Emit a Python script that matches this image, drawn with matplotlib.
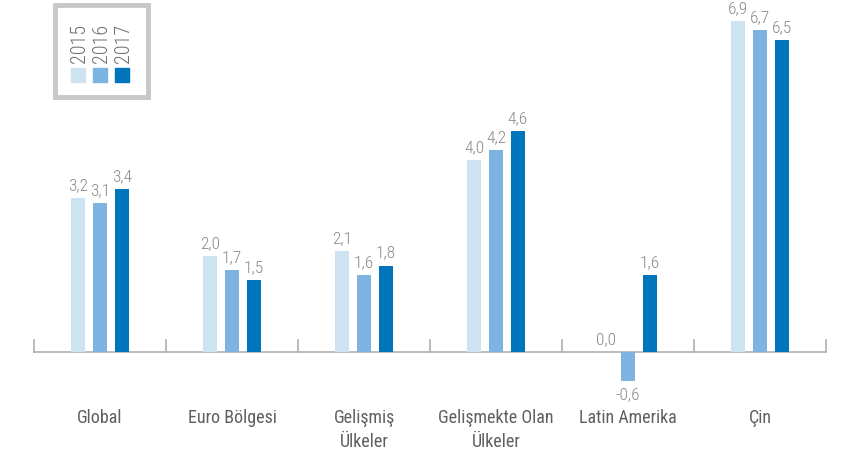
import numpy as np
import matplotlib
matplotlib.use("Agg")
import matplotlib.pyplot as plt
from matplotlib.patches import Rectangle

plt.rcParams['font.family'] = ['Roboto Condensed', 'DejaVu Sans']
plt.rcParams['font.stretch'] = 'condensed'

categories = ["Global", "Euro Bölgesi", "Gelişmiş\nÜlkeler", "Gelişmekte Olan\nÜlkeler",
              "Latin Amerika", "Çin"]
years = ["2015", "2016", "2017"]
v2015 = [3.2, 2.0, 2.1, 4.0, 0.0, 6.9]
v2016 = [3.1, 1.7, 1.6, 4.2, -0.6, 6.7]
v2017 = [3.4, 1.5, 1.8, 4.6, 1.6, 6.5]
colors = ["#cde3f1", "#7db3e0", "#0075bc"]

grey = "#8a8a8a"
W, H = 847, 455
fig = plt.figure(figsize=(W / 100, H / 100), dpi=100)
ax = fig.add_axes([0, 0, 1, 1])
ax.set_xlim(-100 / 132, (W - 100) / 132)
ax.set_ylim(-(H - 352) / 48, 352 / 48)
ax.axis("off")

x = np.arange(len(categories))
off = 22 / 132
bw = 14 / 132
for k, vals in enumerate([v2015, v2016, v2017]):
    xs = x + (k - 1) * off
    ax.bar(xs, vals, width=bw, color=colors[k], zorder=2)
    for xi, v in zip(xs, vals):
        lab = f"{v:.1f}".replace(".", ",")
        if v < 0:
            ax.annotate(lab, (xi, v), xytext=(0, -6), textcoords="offset pixels",
                        ha="center", va="top", fontsize=12.5, color=grey, fontweight="light")
        else:
            ax.annotate(lab, (xi, v), xytext=(0, 5), textcoords="offset pixels",
                        ha="center", va="bottom", fontsize=12.5, color=grey, fontweight="light")

# baseline with upward ticks
left, right = -0.5, len(categories) - 0.5
ax.plot([left, right], [0, 0], color="#b0b0b0", lw=1.2, zorder=1)
for t in np.arange(left, right + 0.01, 1.0):
    ax.plot([t, t], [0, 12 / 48], color="#b0b0b0", lw=1.2, zorder=1)

for xi, c in zip(x, categories):
    ax.annotate(c, (xi, 0), xytext=(0, -57), textcoords="offset pixels",
                ha="center", va="top", fontsize=13, color="#5f5f5f", linespacing=1.4)

# legend box
fig.patches.append(Rectangle((55 / W, 1 - 97 / H), 93 / W, 92 / H, transform=fig.transFigure,
                             fill=False, edgecolor="#c8c8c8", lw=3.5))
for k, yr in enumerate(years):
    cx = 78 + 22 * k
    fig.patches.append(Rectangle(((cx - 7) / W, 1 - 82 / H), 14 / W, 14 / H,
                                 transform=fig.transFigure, color=colors[k]))
    fig.text((cx + 1) / W, 1 - 63 / H, yr, rotation=90, ha="center", va="bottom",
             fontsize=14.5, color="#707070", fontweight="light")

fig.savefig("out.png", dpi=100)
